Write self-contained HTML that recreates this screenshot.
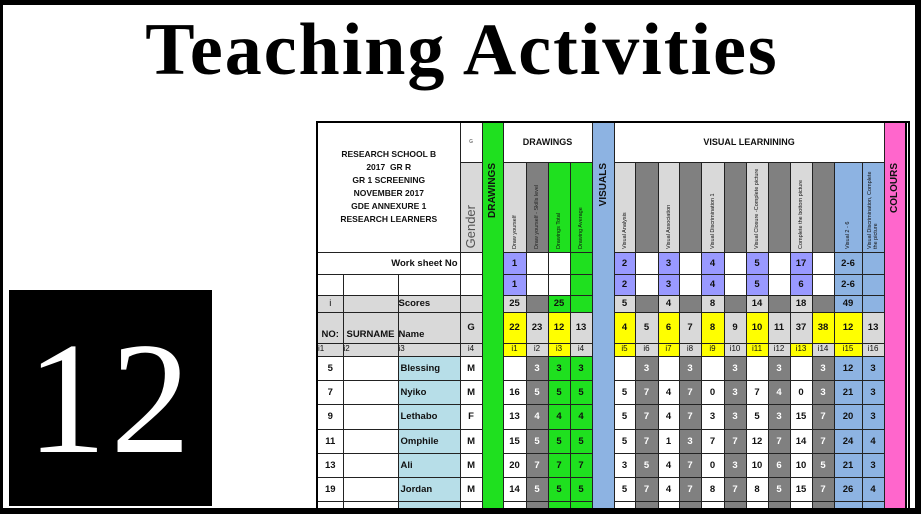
<!DOCTYPE html>
<html><head><meta charset="utf-8"><style>
*{margin:0;padding:0;box-sizing:border-box}
html,body{width:924px;height:516px;overflow:hidden;background:#fff;position:relative;font-family:"Liberation Sans",sans-serif}
#frame{position:absolute;left:0;top:0;width:921px;height:514px;border-style:solid;border-color:#000;border-width:5px 6px 6px 3px}
#title{position:absolute;left:0;width:924px;top:10px;text-align:center;font:bold 74px/80px "Liberation Serif",serif;letter-spacing:2px;color:#000;white-space:nowrap}
#num{position:absolute;left:9px;top:290px;width:203px;height:216px;background:#000;color:#fff;font:160px/216px "Liberation Serif",serif;text-align:center;letter-spacing:4px}
table{position:absolute;left:316px;top:121px;width:592px;border-collapse:collapse;table-layout:fixed;border:2px solid #000}
td{border:1px solid #222;font-weight:bold;font-size:9.5px;text-align:center;vertical-align:middle;color:#111;overflow:hidden;padding:0;white-space:nowrap}
.w{background:#fff}.d{background:#808080;color:#fff}.g{background:#1fe01f}.b{background:#8db3e2}.y{background:#ffff00}.l{background:#d9d9d9}.p{background:#9999ff}.n{background:#b7dee8;text-align:left;padding-left:2px}.k{background:#ff66cc}
.v{display:inline-block;writing-mode:vertical-rl;transform:rotate(180deg);font-size:5.5px;font-weight:normal;height:86px;text-align:left;white-space:normal;line-height:6px}
.bigv{writing-mode:vertical-rl;font-size:10px;font-weight:bold;display:inline-block;margin-top:40px}
.ir td{font-size:8px;font-weight:normal;vertical-align:top;line-height:9px}
</style></head><body>
<div id="frame"></div>
<div id="title">Teaching Activities</div>
<div id="num">12</div>
<table>
<colgroup><col style="width:26px"><col style="width:55px"><col style="width:62px"><col style="width:22px"><col style="width:21px"><col style="width:23px"><col style="width:22px"><col style="width:22px"><col style="width:22px"><col style="width:22px"><col style="width:21px"><col style="width:23px"><col style="width:21px"><col style="width:22px"><col style="width:23px"><col style="width:22px"><col style="width:22px"><col style="width:22px"><col style="width:22px"><col style="width:22px"><col style="width:28px"><col style="width:22px"><col style="width:22px"><col style="width:3px"></colgroup>
<tr style="height:40px">
<td colspan="3" rowspan="2" class="w" style="font-size:8.5px;line-height:13px;white-space:normal">RESEARCH SCHOOL B<br>2017&nbsp; GR R<br>GR 1 SCREENING<br>NOVEMBER 2017<br>GDE ANNEXURE 1<br>RESEARCH LEARNERS</td>
<td class="w" style="font-size:5px;color:#777">G</td>
<td rowspan="14" class="g" style="vertical-align:top"><span class="bigv" style="transform:rotate(180deg)">DRAWINGS</span></td>
<td colspan="4" class="w" style="font-size:9px">DRAWINGS</td>
<td rowspan="14" class="b" style="vertical-align:top"><span class="bigv" style="transform:rotate(180deg)">VISUALS</span></td>
<td colspan="12" class="w" style="font-size:9px">VISUAL LEARNINING</td>
<td rowspan="14" class="k" style="vertical-align:top"><span class="bigv" style="transform:rotate(180deg)">COLOURS</span></td>
<td rowspan="14" class="w" style="border-left:2px solid #000"></td>
</tr>
<tr style="height:90px">
<td class="l" style="vertical-align:bottom"><span class="v" style="font-size:13px;color:#555;height:auto;line-height:14px">Gender</span></td>
<td class="l"><span class="v">Draw yourself</span></td>
<td class="d"><span class="v" style="color:#222">Draw yourself - Skills level</span></td>
<td class="g"><span class="v">Drawings Total</span></td>
<td class="g"><span class="v">Drawing Average</span></td>
<td class="l"><span class="v">Visual Analysis</span></td><td class="d"></td>
<td class="l"><span class="v">Visual Association</span></td><td class="d"></td>
<td class="l"><span class="v">Visual Discrimination 1</span></td><td class="d"></td>
<td class="l"><span class="v">Visual Closure -Complete picture</span></td><td class="d"></td>
<td class="l"><span class="v">Complete the bottom picture</span></td><td class="d"></td>
<td class="b"><span class="v">Visual 2 - 6</span></td>
<td class="b"><span class="v">Visual Discrimination, Complete the picture</span></td>
</tr>
<tr style="height:22px"><td colspan="3" class="w" style="text-align:right;padding-right:2px;font-size:9.5px">Work sheet No</td><td class="w"></td>
<td class="p">1</td><td class="w"></td><td class="w"></td><td class="g"></td>
<td class="p">2</td><td class="w"></td><td class="p">3</td><td class="w"></td><td class="p">4</td><td class="w"></td><td class="p">5</td><td class="w"></td><td class="p">17</td><td class="w"></td><td class="b">2-6</td><td class="b"></td></tr>
<tr style="height:21px"><td class="w"></td><td class="w"></td><td class="w"></td><td class="w"></td>
<td class="p">1</td><td class="w"></td><td class="w"></td><td class="g"></td>
<td class="p">2</td><td class="w"></td><td class="p">3</td><td class="w"></td><td class="p">4</td><td class="w"></td><td class="p">5</td><td class="w"></td><td class="p">6</td><td class="w"></td><td class="b">2-6</td><td class="b"></td></tr>
<tr style="height:17px"><td class="l" style="font-weight:normal">i</td><td class="l"></td><td class="l" style="text-align:left;font-size:9.5px">Scores</td><td class="l"></td>
<td class="l">25</td><td class="d"></td><td class="g">25</td><td class="g"></td>
<td class="l">5</td><td class="d"></td><td class="l">4</td><td class="d"></td><td class="l">8</td><td class="d"></td><td class="l">14</td><td class="d"></td><td class="l">18</td><td class="d"></td><td class="b">49</td><td class="b"></td></tr>
<tr style="height:31px"><td class="l" style="vertical-align:bottom;padding-bottom:3px">NO:</td><td class="l" style="vertical-align:bottom;padding-bottom:3px">SURNAME</td><td class="l" style="text-align:left;vertical-align:bottom;padding-bottom:3px;font-size:9.5px">Name</td><td class="l">G</td>
<td class="y">22</td><td class="l">23</td><td class="y">12</td><td class="l">13</td>
<td class="y">4</td><td class="l">5</td><td class="y">6</td><td class="l">7</td><td class="y">8</td><td class="l">9</td><td class="y">10</td><td class="l">11</td><td class="l">37</td><td class="y">38</td><td class="y">12</td><td class="l">13</td></tr>
<tr style="height:13px" class="ir"><td class="l" style="text-align:left">i1</td><td class="l" style="text-align:left">i2</td><td class="l" style="text-align:left">i3</td><td class="l">i4</td>
<td class="y">i1</td><td class="l">i2</td><td class="y">i3</td><td class="l">i4</td>
<td class="y">i5</td><td class="l">i6</td><td class="y">i7</td><td class="l">i8</td><td class="y">i9</td><td class="l">i10</td><td class="y">i11</td><td class="l">i12</td><td class="y">i13</td><td class="l">i14</td><td class="y">i15</td><td class="l">i16</td></tr>
<tr style="height:24px"><td class="w">5</td><td class="w"></td><td class="n">Blessing</td><td class="w">M</td><td class="w"></td><td class="d">3</td><td class="g">3</td><td class="g">3</td><td class="w"></td><td class="d">3</td><td class="w"></td><td class="d">3</td><td class="w"></td><td class="d">3</td><td class="w"></td><td class="d">3</td><td class="w"></td><td class="d">3</td><td class="b">12</td><td class="b">3</td></tr>
<tr style="height:24px"><td class="w">7</td><td class="w"></td><td class="n">Nyiko</td><td class="w">M</td><td class="w">16</td><td class="d">5</td><td class="g">5</td><td class="g">5</td><td class="w">5</td><td class="d">7</td><td class="w">4</td><td class="d">7</td><td class="w">0</td><td class="d">3</td><td class="w">7</td><td class="d">4</td><td class="w">0</td><td class="d">3</td><td class="b">21</td><td class="b">3</td></tr>
<tr style="height:25px"><td class="w">9</td><td class="w"></td><td class="n">Lethabo</td><td class="w">F</td><td class="w">13</td><td class="d">4</td><td class="g">4</td><td class="g">4</td><td class="w">5</td><td class="d">7</td><td class="w">4</td><td class="d">7</td><td class="w">3</td><td class="d">3</td><td class="w">5</td><td class="d">3</td><td class="w">15</td><td class="d">7</td><td class="b">20</td><td class="b">3</td></tr>
<tr style="height:24px"><td class="w">11</td><td class="w"></td><td class="n">Omphile</td><td class="w">M</td><td class="w">15</td><td class="d">5</td><td class="g">5</td><td class="g">5</td><td class="w">5</td><td class="d">7</td><td class="w">1</td><td class="d">3</td><td class="w">7</td><td class="d">7</td><td class="w">12</td><td class="d">7</td><td class="w">14</td><td class="d">7</td><td class="b">24</td><td class="b">4</td></tr>
<tr style="height:24px"><td class="w">13</td><td class="w"></td><td class="n">Ali</td><td class="w">M</td><td class="w">20</td><td class="d">7</td><td class="g">7</td><td class="g">7</td><td class="w">3</td><td class="d">5</td><td class="w">4</td><td class="d">7</td><td class="w">0</td><td class="d">3</td><td class="w">10</td><td class="d">6</td><td class="w">10</td><td class="d">5</td><td class="b">21</td><td class="b">3</td></tr>
<tr style="height:24px"><td class="w">19</td><td class="w"></td><td class="n">Jordan</td><td class="w">M</td><td class="w">14</td><td class="d">5</td><td class="g">5</td><td class="g">5</td><td class="w">5</td><td class="d">7</td><td class="w">4</td><td class="d">7</td><td class="w">8</td><td class="d">7</td><td class="w">8</td><td class="d">5</td><td class="w">15</td><td class="d">7</td><td class="b">26</td><td class="b">4</td></tr>
<tr style="height:8px"><td class="w"></td><td class="w"></td><td class="n"></td><td class="w"></td><td class="w"></td><td class="d"></td><td class="g"></td><td class="g"></td><td class="w"></td><td class="d"></td><td class="w"></td><td class="d"></td><td class="w"></td><td class="d"></td><td class="w"></td><td class="d"></td><td class="w"></td><td class="d"></td><td class="b"></td><td class="b"></td></tr>
</table>
</body></html>
